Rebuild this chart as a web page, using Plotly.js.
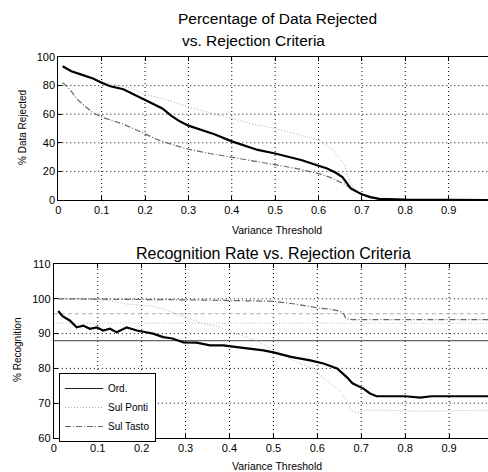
<!DOCTYPE html>
<html>
<head>
<meta charset="utf-8">
<script src="https://cdn.plot.ly/plotly-3.0.1.min.js"></script>
<style>
html,body{margin:0;padding:0;overflow:hidden;background:#fff;}
#chart{width:496px;height:472px;}
</style>
</head>
<body>
<div id="chart"></div>
<script>
// ---------- DATA ----------
const seriesNames = ["Ord.", "Sul Ponti", "Sul Tasto"];
const xTickVals = [0, 0.1, 0.2, 0.3, 0.4, 0.5, 0.6, 0.7, 0.8, 0.9];
const xTickText = ["0", "0.1", "0.2", "0.3", "0.4", "0.5", "0.6", "0.7", "0.8", "0.9"];
const rejTickVals = [0, 20, 40, 60, 80, 100];
const recTickVals = [60, 70, 80, 90, 100, 110];

// Top: % data rejected vs variance threshold
const rejOrdX = [0.01,0.03,0.05,0.08,0.10,0.12,0.15,0.18,0.20,0.22,0.24,0.26,0.28,0.30,0.33,0.36,0.40,0.43,0.46,0.50,0.53,0.56,0.60,0.62,0.64,0.655,0.665,0.675,0.69,0.70,0.72,0.74,0.78,0.80,1.0];
const rejOrdY = [93.5,90,88,85,82,79.5,77.5,73,70,67,64,59,55,52,49,46,41,38,35,32.5,30.5,28,24,22,19,16,12,8,5.5,4,2,0.8,0.5,0.2,0];
const rejPontiX = [0.01,0.05,0.10,0.14,0.17,0.20,0.25,0.30,0.35,0.40,0.45,0.50,0.55,0.60,0.63,0.65,0.66,0.67,0.68,0.69,0.71,0.73,0.76,1.0];
const rejPontiY = [93,88,83,80,78,74,70,65,61,57,53,50,46,42,36,29,24,15,9,6,2.3,1,0.3,0];
const rejTastoX = [0.01,0.02,0.03,0.045,0.06,0.08,0.10,0.12,0.15,0.18,0.20,0.23,0.26,0.30,0.35,0.40,0.45,0.50,0.55,0.60,0.63,0.66,0.68,0.70,0.72,0.75,1.0];
const rejTastoY = [82,79.5,76,70,66,61,58,56,53,49,46,42,39,35.5,32.5,30,27.5,25,22,18.5,15.5,11,7,4,1.5,0.4,0];

// Bottom: % recognition vs variance threshold
const recOrdX = [0.01,0.02,0.037,0.052,0.067,0.082,0.098,0.112,0.128,0.143,0.166,0.189,0.21,0.226,0.249,0.27,0.295,0.325,0.356,0.386,0.417,0.447,0.477,0.50,0.54,0.584,0.614,0.645,0.667,0.68,0.705,0.72,0.735,0.80,0.834,0.86,1.0];
const recOrdY = [96.5,95,93.7,91.8,92.3,91.4,91.8,90.9,91.4,90.4,91.8,90.9,90.4,90,89,88.6,87.5,87.4,86.6,86.6,86.1,85.7,85.2,84.6,83.3,82.3,81.4,80,77.5,75.7,74.2,72.8,72,72,71.6,72,72];
const recPontiX = [0.01,0.10,0.167,0.22,0.25,0.28,0.31,0.34,0.37,0.40,0.43,0.46,0.515,0.56,0.59,0.62,0.65,0.67,0.675,0.69,0.71,0.75,0.83,1.0];
const recPontiY = [100,100,98.5,98,97,95.7,94.3,92.8,92.2,90.8,89.4,88,84.3,81.4,80,76.6,73.7,70.2,68,67.3,68,68,67.7,68];
const recTastoX = [0.01,0.10,0.20,0.30,0.40,0.50,0.55,0.60,0.63,0.65,0.66,0.665,0.68,0.75,0.85,1.0];
const recTastoY = [100,100,99.8,99.7,99.6,99.3,98.5,97.4,97,96.5,95.7,94.3,94,94,94,94];

// Baseline recognition (no rejection)
const baseX = [0, 1];
const baseOrd = 88;
const basePonti = 93;
const baseTasto = 95.7;

// ---------- STYLE ----------
const W = 496, H = 472;
const FONT = "Liberation Sans, Arial, sans-serif";
const styles = {
  "Ord.":      {color: "#000", width: 2.2, dash: "solid"},
  "Sul Ponti": {color: "#aaaaaa", width: 1, dash: "1px,2px"},
  "Sul Tasto": {color: "#666666", width: 1.2, dash: "6px,2px,1px,2px"}
};
const GRID_DASH = "1px,3px";
const px2x = p => p / W;
const py2y = p => 1 - p / H;

function line(x, y, name, xa, ya, showlegend) {
  return {x: x, y: y, type: "scatter", mode: "lines", name: name,
          xaxis: xa, yaxis: ya, showlegend: showlegend, legendgroup: name,
          line: Object.assign({shape: "linear"}, styles[name]), hoverinfo: "skip"};
}
function baseline(v, color, dash, width) {
  return {x: baseX, y: [v, v], type: "scatter", mode: "lines", xaxis: "x2", yaxis: "y2",
          showlegend: false, line: {color: color, dash: dash, width: width}, hoverinfo: "skip"};
}

const legendOrd = line([null], [null], seriesNames[0], "x2", "y2", true);
legendOrd.line = {color: "#222", width: 1};

const traces = [
  line(rejPontiX, rejPontiY, seriesNames[1], "x", "y", false),
  line(rejTastoX, rejTastoY, seriesNames[2], "x", "y", false),
  line(rejOrdX, rejOrdY, seriesNames[0], "x", "y", false),
  baseline(baseOrd, "#666", "solid", 1.3),
  baseline(basePonti, "#b8b8b8", "1px,2px", 1),
  baseline(baseTasto, "#aaa", "4px,3px", 1),
  line(recPontiX, recPontiY, seriesNames[1], "x2", "y2", false),
  line(recTastoX, recTastoY, seriesNames[2], "x2", "y2", false),
  line(recOrdX, recOrdY, seriesNames[0], "x2", "y2", false),
  legendOrd,
  line([null], [null], seriesNames[1], "x2", "y2", true),
  line([null], [null], seriesNames[2], "x2", "y2", true)
];

// dotted grid lines at the tick values (MATLAB style)
const shapes = [];
function vgrid(vals, xa, ya) {
  vals.forEach(v => { if (v > 0) shapes.push({type: "line", layer: "below", xref: xa, yref: ya + " domain",
    x0: v, x1: v, y0: 0, y1: 1, line: {color: "#000", width: 1, dash: GRID_DASH}}); });
}
function hgrid(vals, xa, ya, lo, hi) {
  vals.forEach(v => { if (v > lo && v < hi) shapes.push({type: "line", layer: "below", xref: xa + " domain", yref: ya,
    x0: 0, x1: 1, y0: v, y1: v, line: {color: "#000", width: 1, dash: GRID_DASH}}); });
}
vgrid(xTickVals, "x", "y");
hgrid(rejTickVals, "x", "y", 0, 100);
vgrid(xTickVals, "x2", "y2");
hgrid(recTickVals, "x2", "y2", 60, 110);

const axBase = {
  range: [0, 1], showline: true, linecolor: "#000", linewidth: 1, mirror: "ticks",
  ticks: "inside", ticklen: 4, tickcolor: "#000", tickwidth: 1,
  showgrid: false, zeroline: false, tickfont: {family: FONT, size: 11, color: "#000"},
  fixedrange: true
};

const layout = {
  width: W, height: H,
  margin: {l: 0, r: 0, t: 0, b: 0, pad: 0},
  paper_bgcolor: "#fff", plot_bgcolor: "#fff",
  showlegend: true,
  title: {text: ""},
  font: {family: FONT, color: "#000"},
  shapes: shapes,
  xaxis: Object.assign({}, axBase, {domain: [58.3 / W, 492 / W], anchor: "y",
    tickvals: xTickVals, ticktext: xTickText}),
  yaxis: Object.assign({}, axBase, {domain: [py2y(200), py2y(57)], anchor: "x",
    range: [0, 100], tickvals: rejTickVals}),
  xaxis2: Object.assign({}, axBase, {domain: [53.8 / W, 493 / W], anchor: "y2",
    tickvals: xTickVals, ticktext: xTickText}),
  yaxis2: Object.assign({}, axBase, {domain: [py2y(438), py2y(264)], anchor: "x2",
    range: [60, 110], tickvals: recTickVals}),
  legend: {
    x: px2x(59), y: py2y(373), xanchor: "left", yanchor: "top",
    bgcolor: "#fff", bordercolor: "#000", borderwidth: 1,
    font: {family: FONT, size: 10, color: "#000"},
    itemwidth: 38, tracegroupgap: 0, itemclick: false, itemdoubleclick: false
  },
  annotations: [
    {text: "Percentage of Data Rejected", x: px2x(277), y: py2y(18), xref: "paper", yref: "paper",
     xanchor: "center", yanchor: "middle", showarrow: false, font: {family: FONT, size: 15.5}},
    {text: "vs. Rejection Criteria", x: px2x(253), y: py2y(41), xref: "paper", yref: "paper",
     xanchor: "center", yanchor: "middle", showarrow: false, font: {family: FONT, size: 15.5}},
    {text: "Recognition Rate vs. Rejection Criteria", x: px2x(273), y: py2y(253), xref: "paper", yref: "paper",
     xanchor: "center", yanchor: "middle", showarrow: false, font: {family: FONT, size: 16}},
    {text: "Variance Threshold", x: px2x(277), y: py2y(230), xref: "paper", yref: "paper",
     xanchor: "center", yanchor: "middle", showarrow: false, font: {family: FONT, size: 10.5}},
    {text: "Variance Threshold", x: px2x(277), y: py2y(466), xref: "paper", yref: "paper",
     xanchor: "center", yanchor: "middle", showarrow: false, font: {family: FONT, size: 10.5}},
    {text: "% Data Rejected", x: px2x(23), y: py2y(128), xref: "paper", yref: "paper", textangle: -90,
     xanchor: "center", yanchor: "middle", showarrow: false, font: {family: FONT, size: 10}},
    {text: "% Recognition", x: px2x(17), y: py2y(350), xref: "paper", yref: "paper", textangle: -90,
     xanchor: "center", yanchor: "middle", showarrow: false, font: {family: FONT, size: 10}}
  ]
};

Plotly.newPlot("chart", traces, layout, {staticPlot: true, displayModeBar: false});
</script>
</body>
</html>
